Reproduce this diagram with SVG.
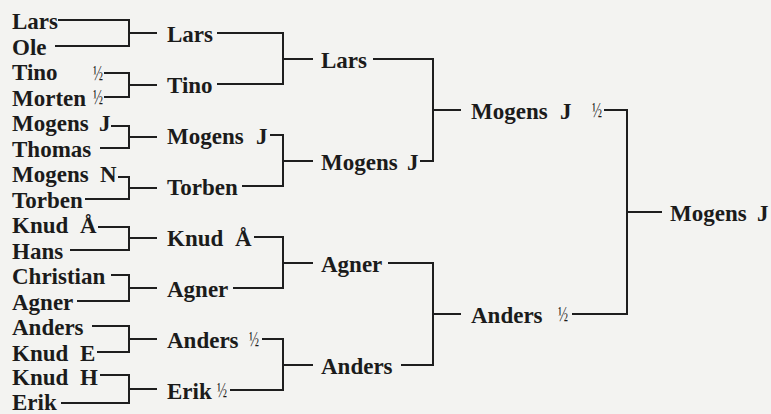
<svg xmlns="http://www.w3.org/2000/svg" width="771" height="414" viewBox="0 0 771 414">
<style>
.t{font-family:"Liberation Serif","Times New Roman",serif;font-size:23px;font-weight:bold;fill:#1b1b1b}
.h{font-size:20px;font-weight:normal}
.c{stroke:#1e1e1e;stroke-width:2;fill:none}
</style>
<rect width="771" height="414" fill="#f3f3f1"/>
<g id="connectors" class="c">
<path d="M58 20H129V46H55M129 33H157"/>
<path d="M104 73H129V97H104M129 85H157"/>
<path d="M111 126H129V148H100M129 137H157"/>
<path d="M118 177H129V199H85M129 188H157"/>
<path d="M98 227H129V250H70M129 238H157"/>
<path d="M111 275H129V301H77M129 288H157"/>
<path d="M92 326H129V352H97M129 339H157"/>
<path d="M100 375H129V403H61M129 389H157"/>
<path d="M217 33H283V84H217M283 59H313"/>
<path d="M270 135H283V186H242M283 161H313"/>
<path d="M254 237H283V288H233M283 263H313"/>
<path d="M262 339H283V390H230M283 365H313"/>
<path d="M373 59H433V161H420M433 110H461"/>
<path d="M388 263H433V365H401M433 314H461"/>
<path d="M604 110H627V314H572M627 212H662"/>
</g>
<g id="r1-lars"><text class="t" x="12" y="29">Lars</text></g>
<g id="r1-ole"><text class="t" x="12" y="55">Ole</text></g>
<g id="r1-tino"><text class="t" x="12" y="80">Tino <tspan class="h" x="93" y="80" textLength="10" lengthAdjust="spacingAndGlyphs">½</tspan></text></g>
<g id="r1-morten"><text class="t" x="12" y="106">Morten <tspan class="h" x="93" y="104" textLength="10" lengthAdjust="spacingAndGlyphs">½</tspan></text></g>
<g id="r1-mogensj"><text class="t" x="12" y="131">Mogens <tspan x="99">J</tspan></text></g>
<g id="r1-thomas"><text class="t" x="12" y="157">Thomas</text></g>
<g id="r1-mogensn"><text class="t" x="12" y="182">Mogens <tspan x="100">N</tspan></text></g>
<g id="r1-torben"><text class="t" x="12" y="208">Torben</text></g>
<g id="r1-knuda"><text class="t" x="12" y="233">Knud <tspan x="80">Å</tspan></text></g>
<g id="r1-hans"><text class="t" x="12" y="259">Hans</text></g>
<g id="r1-christian"><text class="t" x="12" y="284">Christian</text></g>
<g id="r1-agner"><text class="t" x="12" y="310">Agner</text></g>
<g id="r1-anders"><text class="t" x="12" y="335">Anders</text></g>
<g id="r1-knude"><text class="t" x="12" y="361">Knud <tspan x="80">E</tspan></text></g>
<g id="r1-knudh"><text class="t" x="12" y="385">Knud <tspan x="80">H</tspan></text></g>
<g id="r1-erik"><text class="t" x="12" y="410">Erik</text></g>
<g id="r2-lars"><text class="t" x="167" y="42">Lars</text></g>
<g id="r2-tino"><text class="t" x="167" y="93">Tino</text></g>
<g id="r2-mogensj"><text class="t" x="167" y="144">Mogens <tspan x="256">J</tspan></text></g>
<g id="r2-torben"><text class="t" x="167" y="195">Torben</text></g>
<g id="r2-knuda"><text class="t" x="167" y="246">Knud <tspan x="235">Å</tspan></text></g>
<g id="r2-agner"><text class="t" x="167" y="297">Agner</text></g>
<g id="r2-anders"><text class="t" x="167" y="348">Anders <tspan class="h" x="249" y="346" textLength="10" lengthAdjust="spacingAndGlyphs">½</tspan></text></g>
<g id="r2-erik"><text class="t" x="167" y="399">Erik <tspan class="h" x="217" y="397" textLength="10" lengthAdjust="spacingAndGlyphs">½</tspan></text></g>
<g id="r3-lars"><text class="t" x="321" y="68">Lars</text></g>
<g id="r3-mogensj"><text class="t" x="321" y="170">Mogens <tspan x="407">J</tspan></text></g>
<g id="r3-agner"><text class="t" x="321" y="272">Agner</text></g>
<g id="r3-anders"><text class="t" x="321" y="374">Anders</text></g>
<g id="r4-mogensj"><text class="t" x="471" y="119">Mogens <tspan x="560">J</tspan> <tspan class="h" x="592" y="117" textLength="10" lengthAdjust="spacingAndGlyphs">½</tspan></text></g>
<g id="r4-anders"><text class="t" x="471" y="323">Anders <tspan class="h" x="558" y="321" textLength="10" lengthAdjust="spacingAndGlyphs">½</tspan></text></g>
<g id="final-mogensj"><text class="t" x="670" y="221">Mogens <tspan x="757">J</tspan></text></g>
</svg>
